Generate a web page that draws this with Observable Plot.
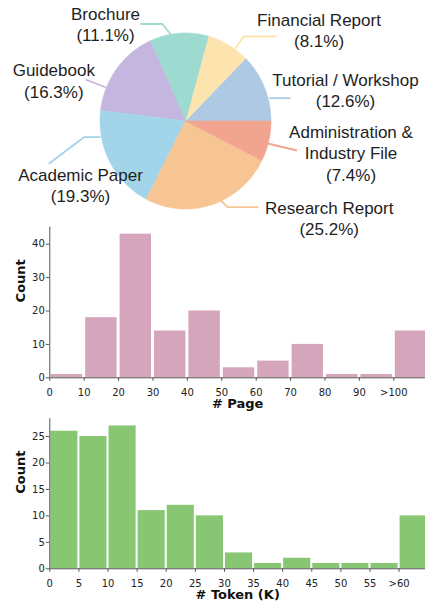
<!DOCTYPE html>
<html><head><meta charset="utf-8">
<script src="https://cdn.jsdelivr.net/npm/d3@7"></script>
<script src="https://cdn.jsdelivr.net/npm/@observablehq/plot@0.6"></script>
<style>
html,body{margin:0;padding:0;background:#fff;overflow:hidden}
#root{position:relative;width:425px;height:605px}
#root > svg{position:absolute;left:0;margin:0}
</style></head><body><div id="root"></div>
<script>
// ---- Pie data ----
const categories = ["Tutorial / Workshop","Financial Report","Brochure","Guidebook","Academic Paper","Research Report","Administration & Industry File"];
const shares = [12.6, 8.1, 11.1, 16.3, 19.3, 25.2, 7.4];
const labelTexts = ["Tutorial / Workshop","Financial Report","Brochure","Guidebook","Academic Paper","Research Report","Administration &\nIndustry File"];
const sliceColors = ["#aec9e4","#fde4ae","#9ddbd0","#c4b6de","#a3d5ea","#f7c593","#f1a48f"];

// ---- Page histogram data ----
const pageBinStarts = [0,10,20,30,40,50,60,70,80,90,100];
const pageCounts = [1,18,43,14,20,3,5,10,1,1,14];
const pageTickValues = [0,10,20,30,40,50,60,70,80,90,100];
const pageTickLabels = ["0","10","20","30","40","50","60","70","80","90",">100"];
const pageYTicks = [0,10,20,30,40];

// ---- Token histogram data ----
const tokenBinStarts = [0,5,10,15,20,25,30,35,40,45,50,55,60];
const tokenCounts = [26,25,27,11,12,10,3,1,2,1,1,1,10];
const tokenTickValues = [0,5,10,15,20,25,30,35,40,45,50,55,60];
const tokenTickLabels = ["0","5","10","15","20","25","30","35","40","45","50","55",">60"];
const tokenYTicks = [0,5,10,15,20,25];

// ---- Layout (pixels) ----
const pieLayout = {cx: 185, cy: 120.5, rx: 85.5, ry: 88};
const labelPos = [[345, 88.9],[318.5, 29.2],[105, 23.3],[53.3, 79.8],[80, 184.5],[328.7, 217.5],[350.5, 152]];
const leaderPts = [
  [[269,97.7],[290,97.7]],
  [[276,36],[243,36],[233.5,50]],
  [[140,23.5],[162,23.5],[171,35]],
  [[85,79],[105.5,87]],
  [[48.3,163.3],[83.5,136.7],[100,136.7]],
  [[220,199.5],[227,206.7],[258,206.7]],
  [[265,142.5],[296.5,150]]
];

const root = document.getElementById("root");

function histogram(o) {
  const data = o.counts.map((c, i) => ({x0: o.starts[i], x1: o.starts[i] + o.binWidth, count: c}));
  const lab = new Map(o.tickValues.map((v, i) => [v, o.tickLabels[i]]));
  const svg = Plot.plot({
    width: 425, height: o.height,
    marginTop: o.marginTop, marginBottom: o.marginBottom, marginLeft: 49.3, marginRight: 0,
    style: {background: "transparent", fontFamily: "DejaVu Sans", fontSize: "10px", color: "#222"},
    x: {domain: [0, o.starts[o.starts.length - 1] + o.binWidth], range: [49.3, 427.7]},
    y: {domain: [0, o.yMax]},
    marks: [
      Plot.rectY(data, {x1: "x0", x2: "x1", y: "count", fill: o.color, insetLeft: o.inset, insetRight: o.inset}),
      Plot.ruleY([0], {stroke: "#555", strokeWidth: 1}),
      Plot.ruleX([0], {stroke: "#555", strokeWidth: 1}),
      Plot.axisX({ticks: o.tickValues, tickFormat: d => lab.get(d), tickSize: 3.5, tickPadding: 7.5, stroke: "#555", fill: "#222", label: null}),
      Plot.axisY({ticks: o.yTicks, tickSize: 3.5, tickPadding: 1.5, stroke: "#555", fill: "#222", label: null}),
      Plot.text([o.label], {frameAnchor: "bottom", dy: 30, fontWeight: "bold", fontSize: 13, fill: "#111"}),
      Plot.text(["Count"], {frameAnchor: "left", dx: -29, rotate: -90, fontWeight: "bold", fontSize: 13, fill: "#111"})
    ]
  });
  svg.style.top = o.top + "px";
  root.appendChild(svg);
}

histogram({counts: pageCounts, starts: pageBinStarts, binWidth: 10, tickValues: pageTickValues, tickLabels: pageTickLabels,
  yTicks: pageYTicks, yMax: 45.15, label: "# Page", color: "#d4a5bb", inset: 1.5, top: 220, height: 195, marginTop: 6.5, marginBottom: 37.7});
histogram({counts: tokenCounts, starts: tokenBinStarts, binWidth: 5, tickValues: tokenTickValues, tickLabels: tokenTickLabels,
  yTicks: tokenYTicks, yMax: 28.35, label: "# Token (K)", color: "#89c674", inset: 1, top: 412, height: 193, marginTop: 6.3, marginBottom: 36.7});

// ---- Pie ----
const total = d3.sum(shares);
const {cx, cy, rx, ry} = pieLayout;
let cum = 0;
const sliceMarks = [];
shares.forEach((v, i) => {
  const a0 = cum / total * 2 * Math.PI; cum += v; const a1 = cum / total * 2 * Math.PI;
  const n = Math.max(2, Math.ceil((a1 - a0) / (Math.PI / 360)));
  const pts = [{x: cx, y: cy}];
  for (let j = 0; j <= n; j++) { const a = a0 + (a1 - a0) * j / n; pts.push({x: cx + rx * Math.cos(a), y: cy - ry * Math.sin(a)}); }
  pts.push({x: cx, y: cy});
  sliceMarks.push(Plot.line(pts, {x: "x", y: "y", fill: sliceColors[i], stroke: sliceColors[i], strokeWidth: 0.6, curve: "linear"}));
});
const leaderMarks = leaderPts.map((p, i) => Plot.line(p, {x: d => d[0], y: d => d[1], stroke: sliceColors[i], strokeWidth: 1.8, strokeLinecap: "butt", strokeLinejoin: "miter"}));
const labels = categories.map((c, i) => ({text: labelTexts[i] + "\n(" + shares[i].toFixed(1) + "%)", x: labelPos[i][0], y: labelPos[i][1]}));
const pieSvg = Plot.plot({
  width: 425, height: 240, margin: 0,
  style: {background: "transparent", fontFamily: "Liberation Sans"},
  x: {type: "identity", axis: null}, y: {type: "identity", axis: null},
  marks: [
    ...sliceMarks,
    ...leaderMarks,
    Plot.text(labels, {x: "x", y: "y", text: "text", fontSize: 17, lineHeight: 1.25, textAnchor: "middle", lineAnchor: "middle", fill: "#1e1e1e"})
  ]
});
pieSvg.style.top = "0px";
root.appendChild(pieSvg);
</script></body></html>
